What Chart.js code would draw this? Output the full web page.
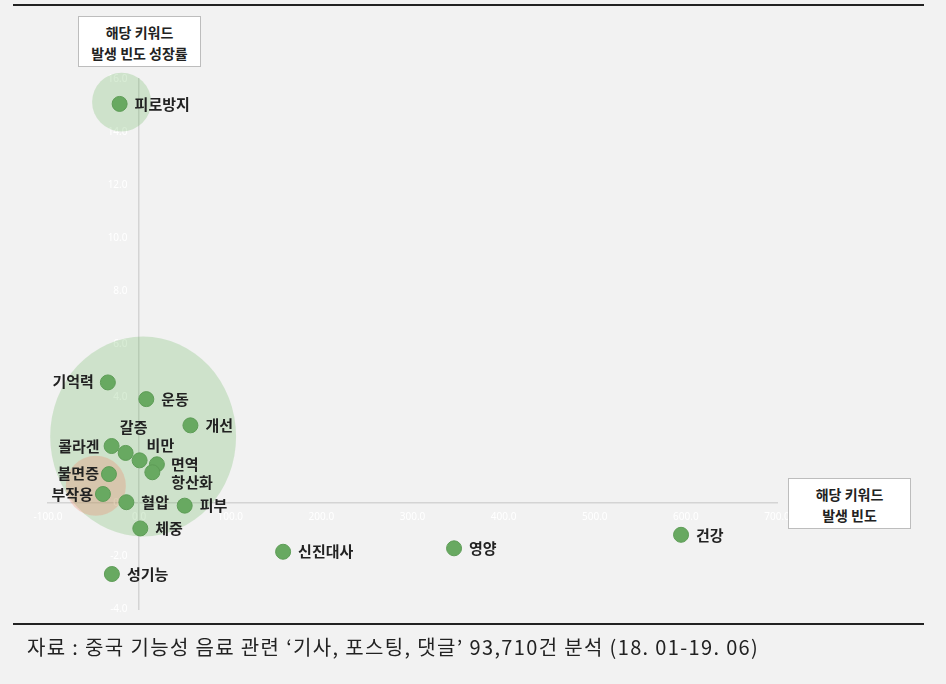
<!DOCTYPE html>
<html>
<head>
<meta charset="utf-8">
<script src="https://cdn.jsdelivr.net/npm/chart.js@4/dist/chart.umd.min.js"></script>
<style>
  html, body { margin: 0; padding: 0; background: #f2f2f2; }
  body { width: 946px; height: 684px; position: relative; overflow: hidden;
    font-family: "Noto Sans CJK KR", "Noto Sans", sans-serif; }
  #chart { position: absolute; left: 0; top: 0; }
  .rule { position: absolute; left: 13px; width: 911px; height: 2px; background: #222; }
  .axis-box { position: absolute; background: #fff; border: 1px solid #bdbdbd;
    box-sizing: border-box; text-align: center; font-size: 14px; font-weight: bold;
    color: #222; line-height: 21px; padding-top: 5px; }
  #caption { position: absolute; left: 27px; top: 632px; font-size: 20px; color: #222;
    letter-spacing: 1.35px; white-space: nowrap; }
</style>
</head>
<body>
<div class="rule" style="top:4px"></div>
<canvas id="chart" width="946" height="684"></canvas>
<div class="axis-box" style="left:78px;top:16px;width:123px;height:51px">해당 키워드<br>발생 빈도 성장률</div>
<div class="axis-box" style="left:788px;top:478px;width:123px;height:51px">해당 키워드<br>발생 빈도</div>
<div class="rule" style="top:623px"></div>
<div id="caption">자료 : 중국 기능성 음료 관련 ‘기사, 포스팅, 댓글’ 93,710건 분석 (18. 01-19. 06)</div>
<script>
// keywords, x = mention frequency, y = growth rate of mention frequency
const keywords = ["피로방지", "기억력", "운동", "개선", "콜라겐", "갈증", "비만", "면역", "항산화",
  "불면증", "부작용", "혈압", "피부", "체중", "신진대사", "영양", "건강", "성기능"];
const frequency = [-21.4, -34.3, 7.9, 56.3, -30.2, -14.8, 0.5, 19.5, 14.5,
  -33.1, -39.7, -14.0, 50.0, 1.3, 158.0, 345.6, 594.7, -29.9];
const growth = [15.06, 4.55, 3.92, 2.93, 2.15, 1.89, 1.61, 1.46, 1.16,
  1.09, 0.34, 0.03, -0.10, -0.96, -1.84, -1.71, -1.20, -2.68];

// highlighted groups (centre and half-extent in data units)
const groupCenterX = [4.4, -19.2, -47.5];
const groupCenterY = [2.51, 15.13, 0.65];
const groupHalfX = [102, 32.4, 33];
const groupHalfY = [3.77, 1.11, 1.13];
const groupColors = ["rgba(110, 185, 100, 0.27)", "rgba(110, 185, 100, 0.27)", "rgba(240, 135, 105, 0.3)"];

// label placement: [dx, dy, align]
const labelPlace = {
  "기억력": [-14, -1, "right"], "콜라겐": [-12, 0, "right"], "불면증": [-10, -1, "right"],
  "부작용": [-10, 0, "right"], "갈증": [8, -26, "center"], "비만": [7, -15, "left"],
  "면역": [14, 0, "left"], "항산화": [19, 10, "left"]
};

const groupPlugin = {
  id: "groups",
  beforeDatasetsDraw(chart) {
    const { ctx, scales: { x, y } } = chart;
    ctx.save();
    groupCenterX.forEach((cx, i) => {
      const px = x.getPixelForValue(cx);
      const py = y.getPixelForValue(groupCenterY[i]);
      const rx = Math.abs(x.getPixelForValue(cx + groupHalfX[i]) - px);
      const ry = Math.abs(y.getPixelForValue(groupCenterY[i] + groupHalfY[i]) - py);
      ctx.beginPath();
      ctx.ellipse(px, py, rx, ry, 0, 0, Math.PI * 2);
      ctx.fillStyle = groupColors[i];
      ctx.fill();
    });
    ctx.restore();
  }
};

const labelPlugin = {
  id: "pointLabels",
  afterDatasetsDraw(chart) {
    const { ctx } = chart;
    const meta = chart.getDatasetMeta(0);
    ctx.save();
    ctx.font = "bold 15px 'Noto Sans CJK KR', sans-serif";
    ctx.fillStyle = "#222";
    ctx.textBaseline = "middle";
    meta.data.forEach((pt, i) => {
      const name = keywords[i];
      const [dx, dy, align] = labelPlace[name] || [15, 0, "left"];
      ctx.textAlign = align;
      ctx.fillText(name, pt.x + dx, pt.y + dy);
    });
    ctx.restore();
  }
};

new Chart(document.getElementById("chart").getContext("2d"), {
  type: "scatter",
  data: {
    datasets: [
      {
        data: frequency.map((v, i) => ({ x: v, y: growth[i] })),
        backgroundColor: "#68a961",
        borderColor: "#5e9c57",
        borderWidth: 1,
        pointRadius: 7.5,
      },
    ],
  },
  options: {
    responsive: false,
    animation: false,
    layout: { padding: { left: 48, right: 169, top: 79, bottom: 75 } },
    plugins: { legend: { display: false }, tooltip: { enabled: false } },
    scales: {
      x: {
        type: "linear",
        min: -100,
        max: 700,
        position: { y: 0 },
        grid: { display: false, drawTicks: false },
        border: { display: true, color: "#d4d4d4", width: 1.5 },
        ticks: {
          stepSize: 100,
          autoSkip: false,
          maxRotation: 0,
          padding: 8,
          color: "#ffffff",
          font: { size: 10, family: "'Noto Sans', sans-serif" },
          callback: (v) => v.toFixed(1),
        },
      },
      y: {
        type: "linear",
        min: -4,
        max: 16,
        position: { x: 0 },
        grid: { display: false, drawTicks: false },
        border: { display: true, color: "#d4d4d4", width: 1.5 },
        ticks: {
          stepSize: 2,
          autoSkip: false,
          color: "#ffffff",
          font: { size: 10, family: "'Noto Sans', sans-serif" },
          // trailing spaces keep the label clear of the axis line
          callback: (v) => v.toFixed(1) + "\u2002\u2002\u2009",
        },
      },
    },
  },
  plugins: [groupPlugin, labelPlugin],
});
</script>
</body>
</html>
